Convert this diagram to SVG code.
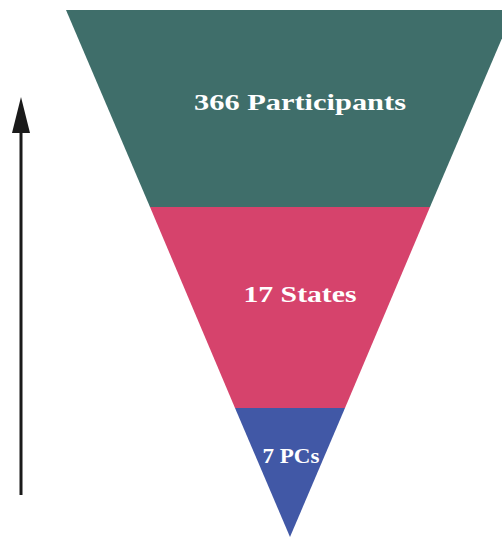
<svg xmlns="http://www.w3.org/2000/svg" width="502" height="543" viewBox="0 0 502 543">
<style>
.lbl{font-family:"Liberation Serif","Times New Roman",serif;font-weight:bold;fill:#ffffff;text-anchor:middle}
</style>
<rect width="502" height="543" fill="#ffffff"/>
<g id="band-participants">
<polygon points="66,10 514,10 430,207 150,207" fill="#3f6e6a"/>
<text class="lbl" x="300" y="110" font-size="24" textLength="212" lengthAdjust="spacingAndGlyphs">366 Participants</text>
</g>
<g id="band-states">
<polygon points="150,207 430,207 345,408 235,408" fill="#d6436c"/>
<text class="lbl" x="300" y="302" font-size="24" textLength="113" lengthAdjust="spacingAndGlyphs">17 States</text>
</g>
<g id="band-pcs">
<polygon points="235,408 345,408 290,537" fill="#4158a6"/>
<text class="lbl" x="291" y="463" font-size="20" textLength="57" lengthAdjust="spacingAndGlyphs">7 PCs</text>
</g>
<g id="connectors">
<line x1="21" y1="495" x2="21" y2="128" stroke="#1a1a1a" stroke-width="3"/>
<polygon points="21,97 30,133 12,133" fill="#1a1a1a"/>
</g>
</svg>
